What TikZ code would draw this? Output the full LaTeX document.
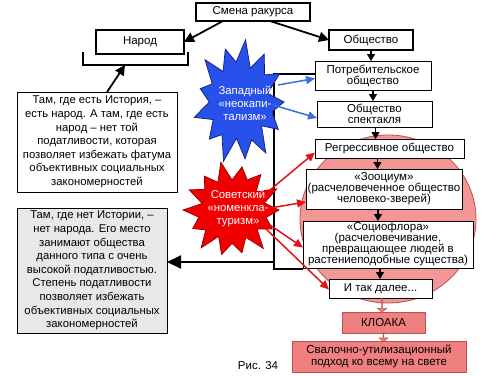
\documentclass[tikz,border=0pt]{standalone}
\usepackage{fontspec}
\setmainfont{Liberation Sans}
\usetikzlibrary{arrows.meta,shapes.arrows,calc}
\definecolor{pinkfill}{RGB}{242,150,150}
\definecolor{pinkline}{RGB}{190,80,80}
\definecolor{pinkbox}{RGB}{240,128,128}
\definecolor{grayfill}{RGB}{232,232,232}
\definecolor{starblue}{RGB}{40,80,235}
\definecolor{starblueline}{RGB}{20,30,120}
\definecolor{starred}{RGB}{240,0,0}
\definecolor{starredline}{RGB}{150,0,0}
\definecolor{redarrow}{RGB}{225,20,20}
\definecolor{bluearrow}{RGB}{60,110,225}
\begin{document}
\begin{tikzpicture}[x=1pt,y=-1pt,
  every node/.style={inner sep=0pt,outer sep=0pt},
  topbox/.style={draw=black,line width=1.3pt,fill=white,align=center,font=\fontsize{11.5}{11.5}\selectfont},
  cbox/.style={draw=black,line width=0.9pt,fill=white,align=center,font=\fontsize{11.5}{11}\selectfont},
  tbox/.style={draw=black,line width=0.8pt,fill=white,align=center,font=\fontsize{11.3}{13.6}\selectfont},
  pbox/.style={draw=pinkline,line width=0.8pt,fill=pinkbox,align=center,font=\fontsize{11.5}{12.5}\selectfont},
  startext/.style={text=white,align=center,font=\fontsize{11.3}{13}\selectfont},
  blockarr/.style={single arrow,draw=pinkline,fill=pinkbox,line width=0.6pt,rotate=-90,
    single arrow head extend=4pt,single arrow tip angle=100,minimum width=9pt},
  bigarr/.style={line width=1.8pt,-{Triangle[length=10pt,width=10pt]}},
  hugearr/.style={line width=2pt,-{Triangle[length=14pt,width=13pt]}},
  carr/.style={line width=1.2pt,-{Triangle[length=7pt,width=8pt]}},
  bracketline/.style={line width=1.8pt,line join=miter},
  rarr/.style={draw=redarrow,line width=1.5pt,-{Triangle[length=9pt,width=8pt]}},
  barrow/.style={draw=bluearrow,line width=1.5pt,-{Triangle[length=9pt,width=8pt]}},
  bluestar/.style={fill=starblue,draw=starblueline,line width=0.7pt},
  redstar/.style={fill=starred,draw=starredline,line width=0.7pt}
]
\path[fill=white] (0,0) rectangle (500,375);
\useasboundingbox (0,0) rectangle (500,375);

% pink ellipse background
\path[fill=pinkfill,draw=pinkline,line width=0.8pt] (388,219) ellipse [x radius=88pt, y radius=84pt];

% top boxes
\node[topbox,minimum width=114pt,minimum height=18pt] (smena) at (253,12) {Смена ракурса};
\node[topbox,line width=1.6pt,minimum width=88pt,minimum height=24pt] (narod) at (140,42) {Народ};
\node[topbox,minimum width=84pt,minimum height=20pt] (obsh) at (371,40) {Общество};

% bracket under Narod
\coordinate (brmid) at (125,65);
\draw[bracketline] (83,52) -- (83,65) -- (188,65) -- (188,52);

% chain boxes
\node[cbox,minimum width=116pt,minimum height=29pt] (potreb) at (373,75.5) {Потребительское\\общество};
\node[cbox,minimum width=115pt,minimum height=26pt] (spekt) at (374.5,114) {Общество\\спектакля};
\node[cbox,minimum width=149pt,minimum height=19pt] (regr) at (389.5,148.5) {Регрессивное общество};
\node[cbox,minimum width=156pt,minimum height=40pt] (zoo) at (384,189) {«Зооциум»\\(расчеловеченное общество\\человеко-зверей)};
\node[cbox,minimum width=170pt,minimum height=47pt] (socio) at (388,244.5) {«Социофлора»\\(расчеловечивание,\\превращающее людей в\\растениеподобные существа)};
\node[cbox,minimum width=103pt,minimum height=19pt] (itak) at (380.5,288.5) {И так далее...};
\node[pbox,minimum width=83pt,minimum height=21pt] (kloaka) at (383.5,322.5) {КЛОАКА};
\node[pbox,minimum width=174pt,minimum height=31pt] (svalka) at (379,356.5) {Свалочно-утилизационный\\подход ко всему на свете};

% left text boxes
\node[tbox,minimum width=160pt,minimum height=100pt] (textA) at (97,142) {Там, где есть История, –\\есть народ. А там, где есть\\народ – нет той\\податливости, которая\\позволяет избежать фатума\\объективных социальных\\закономерностей};
\node[tbox,fill=grayfill,minimum width=150pt,minimum height=125pt] (textB) at (92,270.5) {Там, где нет Истории, –\\нет народа. Его место\\занимают общества\\данного типа с очень\\высокой податливостью.\\Степень податливости\\позволяет избежать\\объективных социальных\\закономерностей};

\node[font=\fontsize{11.5}{12}\selectfont] (ris) at (258,366) {Рис. 34};

% arrows from Smena
\draw[bigarr] ([xshift=-30pt]smena.south) -- (narod.east);
\draw[bigarr] ([xshift=17pt]smena.south) -- (obsh.west);
\draw[bigarr] ([xshift=10pt]textA.north) -- (brmid);

% chain arrows
\draw[carr] (obsh.south) -- (obsh.south |- potreb.north);
\draw[carr] (potreb.south) -- (potreb.south |- spekt.north);
\draw[carr] ([xshift=1pt]spekt.south) -- ([xshift=1pt]spekt.south |- regr.north);
\draw[carr] ([xshift=-12pt]regr.south) -- ([xshift=-12pt]regr.south |- zoo.north);
\draw[carr] ([xshift=-6pt]zoo.south) -- ([xshift=-6pt]zoo.south |- socio.north);
\draw[carr] ([xshift=-8pt]socio.south) -- ([xshift=-8pt]socio.south |- itak.north);

% pink block arrows
\node[blockarr,minimum height=14pt] (ba1) at ($(itak.south)!0.5!(itak.south |- kloaka.north)+(1.5,0)$) {};
\node[blockarr,minimum height=9pt] (ba2) at ($(kloaka.south)!0.5!(kloaka.south |- svalka.north)$) {};

% big bracket left of chain
\coordinate (bk) at (274,262);
\draw[bracketline] ([yshift=1.5pt]potreb.west) -- (274,74) -- (274,269) -- ([yshift=-1pt]socio.south west);
\draw[hugearr] (bk) -- (bk -| textB.east);

% blue star
\path[bluestar] (284,102) \foreach \k in {1,...,25} {
  -- ({240+(1-0.3*mod(\k,2))*(1+0.07*sin(\k*97))*44*cos(\k*360/26)},{102+(1-0.36*mod(\k,2))*(1+0.07*sin(\k*97))*60*sin(\k*360/26)}) } -- cycle;
% red star
\path[redstar] (279,210) \foreach \k in {1,...,27} {
  -- ({232+(1-0.3*mod(\k,2))*(1+0.07*sin(\k*113))*47*cos(\k*360/28)},{210+(1-0.32*mod(\k,2))*(1+0.07*sin(\k*113))*46*sin(\k*360/28)}) } -- cycle;

\node[startext] (bstar) at (245,103) {Западный\\«неокапи-\\тализм»};
\node[startext] (rstar) at (238,208) {Советский\\«номенкла-\\туризм»};

% blue arrows
\coordinate (bs1) at (278,85);
\coordinate (bs2) at (273,105);
\draw[barrow] (bs1) -- ([yshift=-3pt]potreb.west);
\draw[barrow] (bs2) -- ([yshift=-4pt]spekt.west);

% red arrows
\coordinate (rs1) at (270,190);
\coordinate (rs2) at (270,208);
\coordinate (rs3) at (270,225);
\coordinate (rs4) at (265,228);
\draw[rarr] (rs1) -- ([yshift=-4pt]regr.west);
\draw[rarr] (rs2) -- ([yshift=-13pt]zoo.west);
\draw[rarr] (rs3) -- ([yshift=-3pt]socio.west);
\draw[rarr] (rs4) -- ([yshift=-1pt]itak.west);
\end{tikzpicture}
\end{document}
